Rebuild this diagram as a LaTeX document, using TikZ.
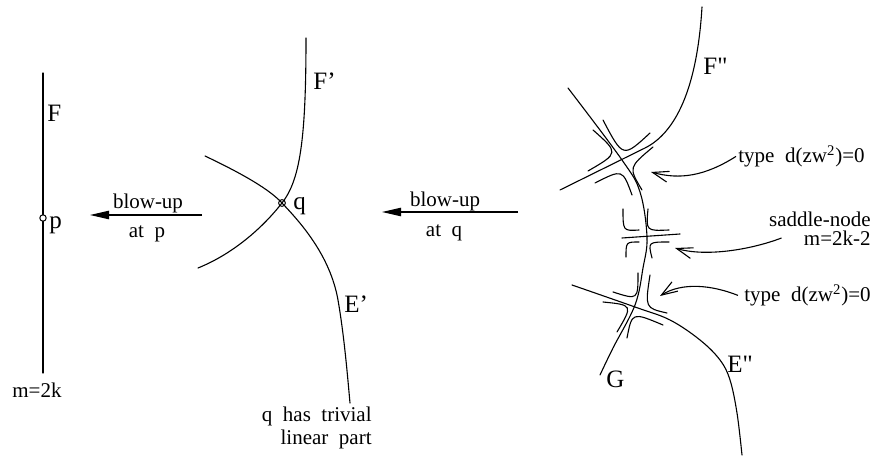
\documentclass[tikz,border=0pt]{standalone}
\usepackage{fontspec}
\setmainfont{Liberation Serif}
\newfontfamily\rawserif{Liberation Serif}[Ligatures=TeXOff]
\usetikzlibrary{arrows.meta}
\tikzset{
  curve/.style={line width=0.55pt, line cap=round},
  lbl/.style={inner sep=0pt, font=\fontsize{12.5}{14}\selectfont},
  ann/.style={inner sep=0pt, font=\fontsize{10.5}{12}\selectfont},
  blowarrow/.style={line width=0.55pt, -{Triangle[length=9.5pt,width=4.2pt]}},
  pointer/.style={line width=0.55pt, -{Straight Barb[length=8pt,width=5.5pt]}},
  pt/.style={circle, draw, fill=white, line width=0.5pt, inner sep=0pt, minimum size=3.2pt},
  ptx/.style={circle, draw, line width=0.5pt, inner sep=0pt, minimum size=3.4pt}
}
\begin{document}
\begin{tikzpicture}[x=0.5pt,y=-0.5pt]
\useasboundingbox (0,0) rectangle (873,459);

% ---------- left panel ----------
\coordinate (Ftop) at (43,73);
\coordinate (Fbot) at (43,373);
\draw[curve] (Ftop) -- (Fbot);
\node[pt] (p) at (43,218) {};
\node[lbl, anchor=base west] (Flab) at (47,122) {F};
\node[lbl, anchor=base west] (plab) at (49,229) {p};
\node[ann, anchor=base west] (m2k) at (12,398) {m=2k};

% arrow 1
\coordinate (a1s) at (202,215);
\coordinate (a1e) at (90,215);
\draw[blowarrow] (a1s) -- (a1e);
\node[ann, anchor=base] (bu1) at (148,209) {blow-up};
\node[ann, anchor=base] (at1) at (147,238) {at\ \ p};

% ---------- middle panel ----------
\draw[curve] (205,156) .. controls (245,175) and (270,190) .. (282,203)
  .. controls (300,222) and (330,255) .. (338,300)
  .. controls (344,335) and (347,370) .. (350,403);
\draw[curve] (306,38) .. controls (306,140) and (300,180) .. (282,203)
  .. controls (264,226) and (235,253) .. (198,268);
\node[ptx] (q) at (282,203) {};
\node[lbl, anchor=base west] (Fp) at (313,90) {F'};
\node[lbl, anchor=base west] (qlab) at (293,210) {q};
\node[lbl, anchor=base west] (Ep) at (344,313) {E'};
\node[ann, anchor=base east] (triv1) at (372,422) {q\ \ has\ \ trivial};
\node[ann, anchor=base east] (triv2) at (372,445) {linear\ \ part};

% arrow 2
\coordinate (a2s) at (518,212);
\coordinate (a2e) at (382,212);
\draw[blowarrow] (a2s) -- (a2e);
\node[ann, anchor=base] (bu2) at (445,207) {blow-up};
\node[ann, anchor=base] (at2) at (444,237) {at\ \ q};

% ---------- right panel ----------
% F'' curve
\draw[curve] (702,7) .. controls (697,90) and (675,133) .. (645,148) -- (560,190);
% G curve
\draw[curve] plot[smooth, tension=0.6] coordinates {(568,88) (622,160) (640,192) (647,237) (643,268) (635,305) (613,348) (600,375)};
% E'' curve
\draw[curve] plot[smooth, tension=0.6] coordinates {(572,285) (635,307) (670,320) (700,340) (720,360) (730,380) (737,413) (742,455)};
% horizontal line through the saddle-node
\draw[curve] (622,238) -- (680,234);

% separatrices at top crossing
\draw[curve] (593,130) .. controls (619,153) .. (588,171);
\draw[curve] (603,120) .. controls (623,158) .. (650,133);
\draw[curve] (653,147) .. controls (628.5,167.5) .. (642,190);
\draw[curve] (595,183) .. controls (622.5,169) .. (632,195);
% separatrices at middle crossing
\draw[curve] (623,209) .. controls (623,231) .. (639,230);
\draw[curve] (648,209) .. controls (646,231) .. (669,230);
\draw[curve] (626,257) .. controls (626,242) .. (639,242);
\draw[curve] (652,258) .. controls (648,242) .. (669,242);
% separatrices at bottom crossing
\draw[curve] (638,273) .. controls (638,300) .. (613,292);
\draw[curve] (650,275) .. controls (645,308) .. (667,313);
\draw[curve] (603,302) .. controls (633,305) .. (617,332);
\draw[curve] (627,338) .. controls (632,312) .. (663,325);

\node[lbl, anchor=base west] (Fpp) at (703,75) {\rawserif F"};
\node[lbl, anchor=base west] (Epp) at (727,373) {\rawserif E"};
\node[lbl, anchor=base west] (G) at (606,388) {G};

\node[ann, anchor=base west] (ty1) at (738,163) {type\ \ d(zw\textsuperscript{2})=0};
\node[ann, anchor=base east] (sn1) at (871,227) {saddle-node};
\node[ann, anchor=base east] (sn2) at (871,246) {m=2k-2};
\node[ann, anchor=base west] (ty2) at (744,302) {type\ \ d(zw\textsuperscript{2})=0};

\coordinate (tip1) at (651,172);
\coordinate (tip2) at (675,248);
\coordinate (tip3) at (660,296);
\draw[pointer] ([xshift=-1]ty1.west) .. controls (705,176) and (680,180) .. (tip1);
\draw[pointer] ([shift={(-22,-8)}]sn2.base west) .. controls (750,250) and (705,257) .. (tip2);
\draw[pointer] ([xshift=-3]ty2.west) .. controls (712,285) and (682,282) .. (tip3);
\end{tikzpicture}
\end{document}
